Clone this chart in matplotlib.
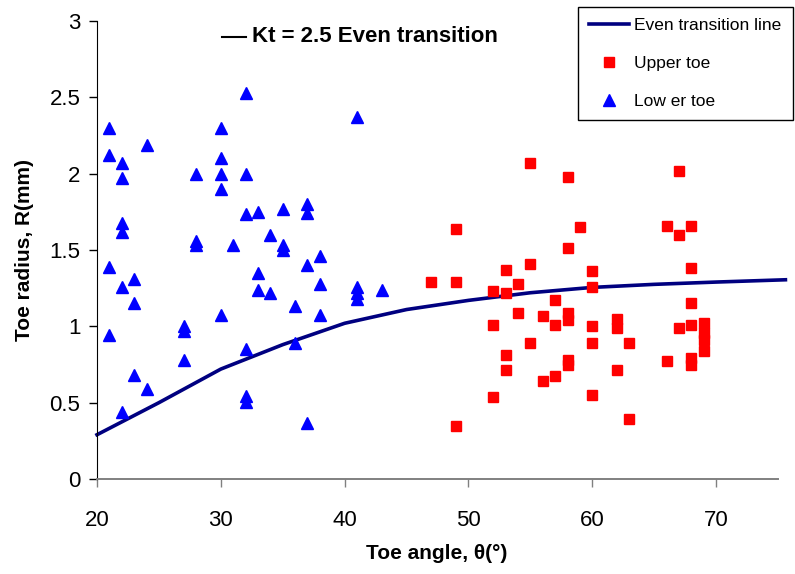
import matplotlib
matplotlib.use("Agg")
import matplotlib.pyplot as plt
from matplotlib.lines import Line2D
from matplotlib.ticker import FuncFormatter

plt.rcParams["font.family"] = ["Liberation Sans", "DejaVu Sans"]

# Even transition line (Kt = 2.5)
line_x = [20, 25, 30, 35, 40, 45, 50, 55, 60, 65, 70, 75.6]
line_y = [0.29, 0.50, 0.72, 0.88, 1.02, 1.11, 1.17, 1.22, 1.255, 1.275, 1.29, 1.305]

# Upper toe (red squares)
upper_x = [47, 49, 49, 49, 52, 52, 52, 53, 53, 53, 53, 54, 54, 55, 55, 55,
           56, 56, 57, 57, 57, 58, 58, 58, 58, 58, 58, 59, 60, 60, 60, 60, 60,
           62, 62, 62, 63, 63, 66, 66, 67, 67, 67, 68, 68, 68, 68, 68, 68,
           69, 69, 69, 69]
upper_y = [1.29, 1.64, 1.29, 0.35, 1.23, 1.01, 0.54, 1.37, 1.22, 0.81, 0.715,
           1.28, 1.085, 2.07, 1.41, 0.89, 1.07, 0.64, 1.17, 1.01, 0.675,
           1.98, 1.51, 1.09, 1.04, 0.78, 0.75, 1.65, 1.36, 1.26, 1.00, 0.89,
           0.55, 1.05, 0.99, 0.715, 0.89, 0.39, 1.66, 0.775, 2.02, 1.60, 0.99,
           1.66, 1.385, 1.15, 1.01, 0.79, 0.75, 1.02, 0.955, 0.91, 0.84]

# Lower toe (blue triangles)
lower_x = [21, 21, 21, 21, 22, 22, 22, 22, 22, 22, 23, 23, 23, 24, 24,
           27, 27, 27, 28, 28, 28, 30, 30, 30, 30, 30, 31,
           32, 32, 32, 32, 32, 32, 33, 33, 33, 34, 34, 35, 35, 35,
           36, 36, 37, 37, 37, 37, 38, 38, 38, 41, 41, 41, 41, 43]
lower_y = [2.30, 2.12, 1.39, 0.94, 2.07, 1.97, 1.68, 1.62, 1.26, 0.44,
           1.31, 1.15, 0.68, 2.19, 0.59, 1.00, 0.97, 0.78, 2.00, 1.56, 1.53,
           2.30, 2.10, 2.00, 1.90, 1.075, 1.53,
           2.53, 2.00, 1.735, 0.85, 0.545, 0.507, 1.75, 1.35, 1.24, 1.60, 1.22,
           1.77, 1.53, 1.50, 1.13, 0.89, 1.80, 1.74, 1.40, 0.366,
           1.46, 1.275, 1.075, 2.37, 1.26, 1.22, 1.18, 1.24]

x_ticks = [20, 30, 40, 50, 60, 70]
y_ticks = [0, 0.5, 1, 1.5, 2, 2.5, 3]

W, H = 795, 574
fig = plt.figure(figsize=(W / 100, H / 100), dpi=100)
ax = fig.add_axes([97 / W, 1 - 479 / H, (778 - 97) / W, (479 - 21) / H])

ax.plot(line_x, line_y, color="#000080", lw=2.6, clip_on=False, zorder=2,
        label="Even transition line")
ax.plot(upper_x, upper_y, ls="none", marker="s", ms=7, color="#ff0000",
        mec="#ff0000", zorder=3, label="Upper toe")
ax.plot(lower_x, lower_y, ls="none", marker="^", ms=8.5, color="#0000ff",
        mec="#0000ff", zorder=3, label="Low er toe")

ax.set_xlim(20, 75)
ax.set_ylim(0, 3)
ax.set_xticks(x_ticks)
ax.set_yticks(y_ticks)
ax.yaxis.set_major_formatter(FuncFormatter(lambda v, p: f"{v:g}"))
ax.tick_params(axis="both", direction="out", length=6, width=1,
               labelsize=16, colors="black")
ax.tick_params(axis="x", pad=16, color="#808080")
ax.tick_params(axis="y", pad=6)

for s in ("top", "right"):
    ax.spines[s].set_visible(False)
ax.spines["left"].set_color("black")
ax.spines["bottom"].set_color("#808080")
ax.spines["bottom"].set_linewidth(1.4)

ax.set_xlabel("Toe angle, θ(°)", fontsize=15, fontweight="bold")
ax.set_ylabel("Toe radius, R(mm)", fontsize=15, fontweight="bold")
ax.xaxis.set_label_coords((437 - 97) / 681, (479 - 544) / 458)
ax.yaxis.set_label_coords((34 - 97) / 681, (479 - 250) / 458)

# in-plot note with a short black dash
fig.add_artist(Line2D([222 / W, 246 / W], [1 - 37 / H, 1 - 37 / H],
                      color="black", lw=1.5))
fig.text(252 / W, 1 - 37 / H, "Kt = 2.5 Even transition", fontsize=16,
         fontweight="bold", va="center", ha="left")

leg = ax.legend(loc="upper right", bbox_to_anchor=(793 / W, 1 - 7 / H),
                bbox_transform=fig.transFigure, borderaxespad=0,
                fontsize=12.5, frameon=True, fancybox=False, edgecolor="black",
                framealpha=1, handlelength=2.3, handletextpad=0.3,
                labelspacing=1.3, borderpad=0.65, numpoints=1)
leg.get_frame().set_linewidth(1.0)

fig.savefig("out.png", dpi=100)
